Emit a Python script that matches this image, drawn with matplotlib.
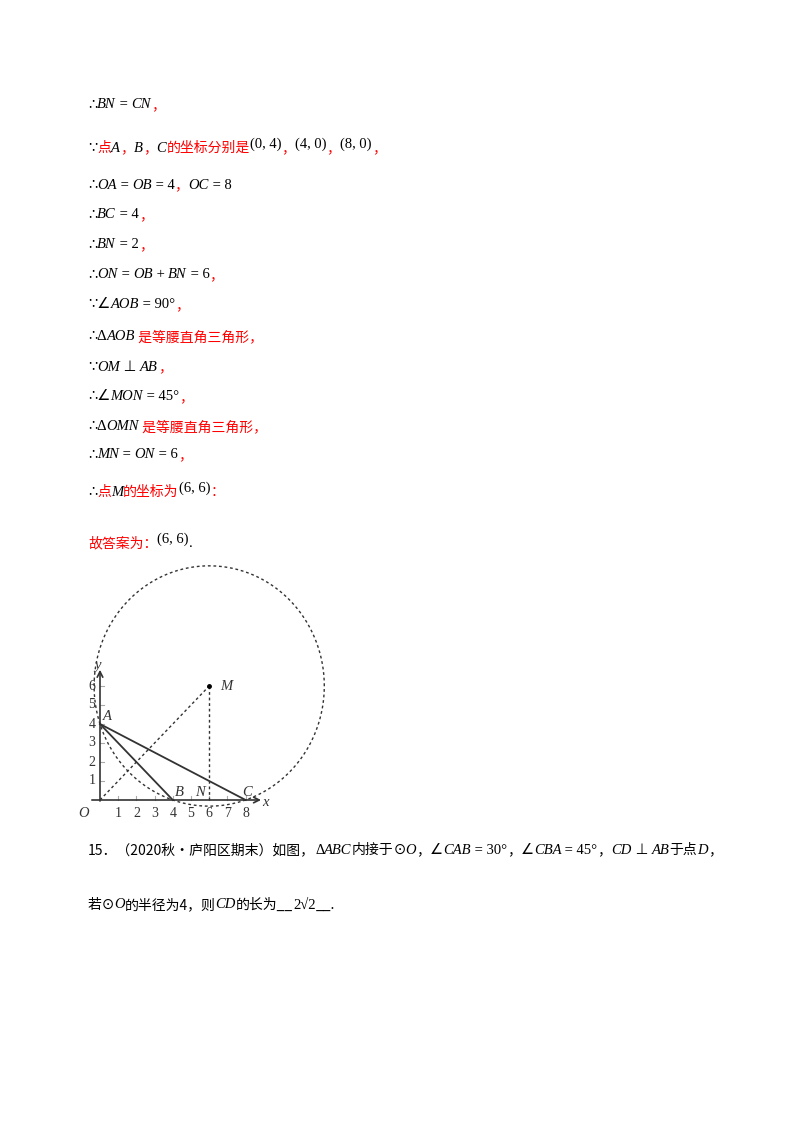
import numpy as np
import matplotlib
matplotlib.use("Agg")
import matplotlib.pyplot as plt

W, H = 800, 1132
RED = "#ff0000"
SERIF = ["Liberation Serif", "DejaVu Sans", "Noto Sans CJK SC"]
CJK = ["Noto Sans CJK SC", "DejaVu Sans"]

# text lines: (y pixel, x start, [(text, kind)])
# kinds: m = italic math, b = upright black, u = raised upright, r = red chinese, k = black chinese
lines = [
    (105, 88, [("∴", "b"), ("BN", "m"), (" = ", "b"), ("CN", "m"), ("，", "r")]),
    (148, 88, [("∵", "b"), ("点", "r"), ("A", "m"), ("，", "r"), ("B", "m"), ("，", "r"),
               ("C", "m"), ("的坐标分别是", "r"), ("(0, 4)", "u"), ("，", "r"),
               ("(4, 0)", "u"), ("，", "r"), ("(8, 0)", "u"), ("，", "r")]),
    (185, 88, [("∴", "b"), ("OA", "m"), (" = ", "b"), ("OB", "m"), (" = 4", "b"), ("，", "r"),
               ("OC", "m"), (" = 8", "b")]),
    (215, 88, [("∴", "b"), ("BC", "m"), (" = 4", "b"), ("，", "r")]),
    (245, 88, [("∴", "b"), ("BN", "m"), (" = 2", "b"), ("，", "r")]),
    (275, 88, [("∴", "b"), ("ON", "m"), (" = ", "b"), ("OB", "m"), (" + ", "b"), ("BN", "m"),
               (" = 6", "b"), ("，", "r")]),
    (305, 88, [("∵∠", "b"), ("AOB", "m"), (" = 90°", "b"), ("，", "r")]),
    (337, 88, [("∴Δ", "b"), ("AOB", "m"), (" 是等腰直角三角形，", "r")]),
    (367, 88, [("∵", "b"), ("OM", "m"), (" ⊥ ", "b"), ("AB", "m"), ("，", "r")]),
    (397, 88, [("∴∠", "b"), ("MON", "m"), (" = 45°", "b"), ("，", "r")]),
    (427, 88, [("∴Δ", "b"), ("OMN", "m"), (" 是等腰直角三角形，", "r")]),
    (455, 88, [("∴", "b"), ("MN", "m"), (" = ", "b"), ("ON", "m"), (" = 6", "b"), ("，", "r")]),
    (492, 88, [("∴", "b"), ("点", "r"), ("M", "m"), ("的坐标为", "r"), ("(6, 6)", "u"), ("：", "r")]),
    (543, 88, [("故答案为：", "r"), ("(6, 6)", "u"), (".", "b")]),
    (850, 88, [("15．（2020秋•庐阳区期末）如图，", "k"), ("Δ", "b"), ("ABC", "m"),
               ("内接于", "k"), ("⊙", "b"), ("O", "m"), ("，", "k"), ("∠", "b"),
               ("CAB", "m"), (" = 30°", "b"), ("，", "k"), ("∠", "b"), ("CBA", "m"),
               (" = 45°", "b"), ("，", "k"), ("CD", "m"), (" ⊥ ", "b"), ("AB", "m"),
               ("于点", "k"), ("D", "m"), ("，", "k")]),
    (905, 88, [("若", "k"), ("⊙", "b"), ("O", "m"), ("的半径为4，则", "k"), ("CD", "m"),
               ("的长为__", "k"), ("2√2", "u"), ("__.", "k")]),
]

# geometry data
A = (0, 4)
B = (4, 0)
C = (8, 0)
M = (6, 6)
N = (6, 0)
x_ticks = [1, 2, 3, 4, 5, 6, 7, 8]
y_ticks = [1, 2, 3, 4, 5, 6]

fig = plt.figure(figsize=(W / 100, H / 100), dpi=100)
fig.patch.set_facecolor("white")
renderer = fig.canvas.get_renderer()


def style(kind):
    if kind == "m":
        return dict(family=SERIF, style="italic", color="black", fontsize=10.5)
    if kind in ("b", "u"):
        return dict(family=SERIF, color="black", fontsize=10.5)
    if kind == "r":
        return dict(family=CJK, color=RED, fontsize=10)
    return dict(family=CJK, color="black", fontsize=10)


for y, x, segs in lines:
    for txt, kind in segs:
        dy = -4 if kind == "u" and "(" in txt else 0
        t = fig.text(x / W, 1 - (y + dy) / H, txt, va="center", ha="left", **style(kind))
        x += t.get_window_extent(renderer).width

# figure axes: data -> pixel mapping (O at 100,800; 18.2 px/unit x, 19 px/unit y)
x0, x1, y0, y1 = -1.0, 13.0, -1.5, 13.0
sx, sy = 18.2, 19.0
left = 100 + x0 * sx
right = 100 + x1 * sx
bottom = 800 - y0 * sy
top = 800 - y1 * sy
ax = fig.add_axes([left / W, 1 - bottom / H, (right - left) / W, (bottom - top) / H])
ax.set_xlim(x0, x1)
ax.set_ylim(y0, y1)
ax.axis("off")

lw = 1.3
gray = "#333333"
# axes
ax.annotate("", xy=(9.0, 0), xytext=(-0.6, 0),
            arrowprops=dict(arrowstyle="->", color=gray, lw=1.2))
ax.annotate("", xy=(0, 7.0), xytext=(0, -0.2),
            arrowprops=dict(arrowstyle="->", color=gray, lw=1.2))
for t in x_ticks:
    ax.plot([t, t], [0, 0.22], color="#aaaaaa", lw=0.8)
    ax.text(t, -0.35, str(t), ha="center", va="top", fontsize=10, family=SERIF, color=gray)
for t in y_ticks:
    ax.plot([0, 0.22], [t, t], color="#aaaaaa", lw=0.8)
    ax.text(-0.25, t, str(t), ha="right", va="center", fontsize=10, family=SERIF, color=gray)

# circle through A, B, C centered at M
r = np.hypot(M[0] - A[0], M[1] - A[1])
th = np.linspace(0, 2 * np.pi, 400)
ax.plot(M[0] + r * np.cos(th), M[1] + r * np.sin(th), ls=(0, (2, 2)), color=gray, lw=1.0)

# solid lines
ax.plot([A[0], B[0]], [A[1], B[1]], color=gray, lw=lw)
ax.plot([A[0], C[0]], [A[1], C[1]], color=gray, lw=lw)
# dashed lines
ax.plot([0, M[0]], [0, M[1]], ls=(0, (2, 2)), color=gray, lw=1.0)
ax.plot([M[0], N[0]], [M[1], N[1]], ls=(0, (2, 2)), color=gray, lw=1.0)
ax.plot(*M, "o", color="black", ms=2.5)

lab = dict(family=SERIF, style="italic", fontsize=10.5, color=gray)
ax.text(-0.6, -0.35, "O", ha="right", va="top", **lab)
ax.text(0.15, 4.05, "A", ha="left", va="bottom", **lab)
ax.text(4.1, 0.05, "B", ha="left", va="bottom", **lab)
ax.text(8.1, 0.05, "C", ha="center", va="bottom", **lab)
ax.text(5.5, 0.05, "N", ha="center", va="bottom", **lab)
ax.text(6.6, 6.0, "M", ha="left", va="center", **lab)
ax.text(8.9, -0.15, "x", ha="left", va="center", **lab)
ax.text(-0.15, 7.1, "y", ha="center", va="center", **lab)

fig.savefig("out.png", dpi=100, facecolor="white")
